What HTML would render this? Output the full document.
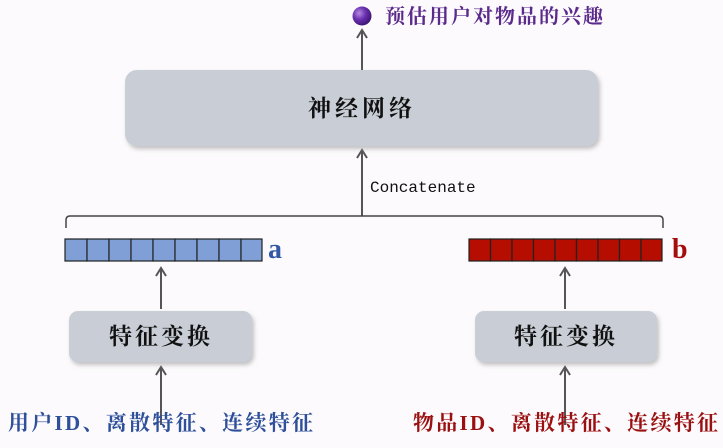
<!DOCTYPE html>
<html><head><meta charset="utf-8"><style>
html,body{margin:0;padding:0;background:#fcfafc;}
svg text{font-family:"Liberation Serif","Noto Serif CJK SC",serif;}
</style></head><body>
<svg width="723" height="443" viewBox="0 0 723 443" xmlns="http://www.w3.org/2000/svg">
<defs>
<radialGradient id="ball" cx="0.35" cy="0.35" r="0.7"><stop offset="0" stop-color="#b58be0"/><stop offset="0.5" stop-color="#6a2fb0"/><stop offset="1" stop-color="#3d1470"/></radialGradient>
<filter id="sh" x="-5%" y="-10%" width="115%" height="130%"><feDropShadow dx="2" dy="3" stdDeviation="2" flood-color="#888" flood-opacity="0.5"/></filter>
</defs>
<rect width="723" height="443" fill="#fcfafc"/>
<circle cx="362" cy="16" r="9.5" fill="url(#ball)"/>
<text x="385" y="23" font-size="20" font-weight="bold" fill="#5a2a8c" letter-spacing="2">预估用户对物品的兴趣</text>
<g stroke="#555" stroke-width="2" fill="none">
<line x1="362" y1="70" x2="362" y2="30"/><path d="M357,38 L362,30 L367,38"/>
<line x1="362" y1="216" x2="362" y2="150"/><path d="M357,158 L362,150 L367,158"/>
<line x1="161" y1="309" x2="161" y2="268"/><path d="M156,276 L161,268 L166,276"/>
<line x1="565" y1="309" x2="565" y2="268"/><path d="M560,276 L565,268 L570,276"/>
<line x1="161" y1="425" x2="161" y2="367"/><path d="M156,375 L161,367 L166,375"/>
<line x1="565" y1="425" x2="565" y2="367"/><path d="M560,375 L565,367 L570,375"/>
</g>
<rect x="125" y="70" width="473" height="76" rx="12" fill="#c9ced6" filter="url(#sh)"/>
<text x="362" y="116" font-size="23" font-weight="bold" text-anchor="middle" fill="#111" letter-spacing="4">神经网络</text>
<text x="370" y="192" font-size="16" fill="#111" style="font-family:'Liberation Mono',monospace">Concatenate</text>
<path d="M66,228 L66,220 Q66,216 70,216 L659,216 Q663,216 663,220 L663,228" fill="none" stroke="#444" stroke-width="1.5"/>
<g stroke="#222" stroke-width="1.2" fill="#7f9fd6">
<rect x="65" y="239" width="22" height="22"/><rect x="87" y="239" width="22" height="22"/><rect x="109" y="239" width="22" height="22"/><rect x="131" y="239" width="22" height="22"/><rect x="153" y="239" width="22" height="22"/><rect x="175" y="239" width="22" height="22"/><rect x="197" y="239" width="22" height="22"/><rect x="219" y="239" width="22" height="22"/><rect x="241" y="239" width="21" height="22"/>
</g>
<text x="268" y="258" font-size="28" font-weight="bold" fill="#3358a6">a</text>
<g stroke="#222" stroke-width="1.2" fill="#b50d00">
<rect x="469" y="239" width="21.5" height="22"/><rect x="490.5" y="239" width="21.5" height="22"/><rect x="512" y="239" width="21.5" height="22"/><rect x="533.5" y="239" width="21.5" height="22"/><rect x="555" y="239" width="21.5" height="22"/><rect x="576.5" y="239" width="21.5" height="22"/><rect x="598" y="239" width="21.5" height="22"/><rect x="619.5" y="239" width="21.5" height="22"/><rect x="641" y="239" width="21" height="22"/>
</g>
<text x="672" y="258" font-size="28" font-weight="bold" fill="#a50d0d">b</text>
<rect x="69" y="311" width="183" height="51" rx="9" fill="#c9ced6" filter="url(#sh)"/>
<rect x="475" y="311" width="182" height="51" rx="9" fill="#c9ced6" filter="url(#sh)"/>
<text x="161" y="344" font-size="23" font-weight="bold" text-anchor="middle" fill="#111" letter-spacing="3">特征变换</text>
<text x="566" y="344" font-size="23" font-weight="bold" text-anchor="middle" fill="#111" letter-spacing="3">特征变换</text>
<text x="8" y="430" font-size="21" font-weight="bold" fill="#2e4f9a" textLength="305" lengthAdjust="spacing">用户ID、离散特征、连续特征</text>
<text x="413" y="430" font-size="21" font-weight="bold" fill="#9a1010" textLength="305" lengthAdjust="spacing">物品ID、离散特征、连续特征</text>
</svg>
</body></html>
